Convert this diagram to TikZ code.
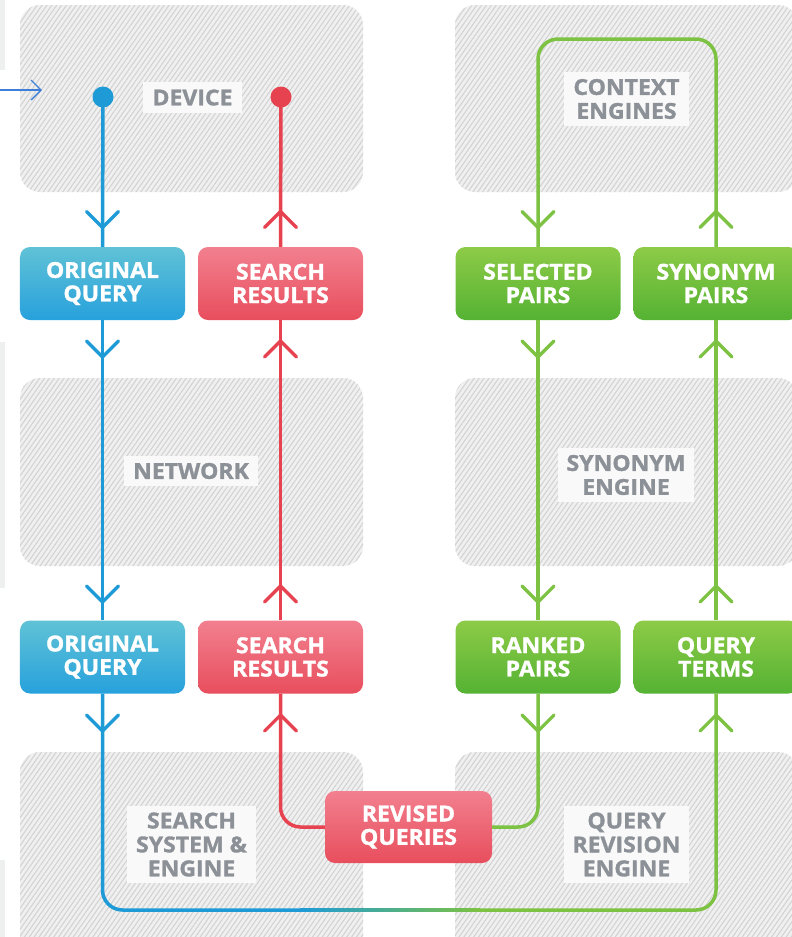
\documentclass[tikz,border=0pt]{standalone}
\usepackage{fontspec}
\setmainfont{Open Sans}[BoldFeatures={FakeBold=1.4, FakeStretch=1.05}]
\usetikzlibrary{patterns.meta,arrows.meta}

\definecolor{cBlueLine}{HTML}{1E9BD7}
\definecolor{cBlueTop}{HTML}{60C2D6}
\definecolor{cBlueBot}{HTML}{27A1DC}
\definecolor{cRedLine}{HTML}{E6424F}
\definecolor{cRedTop}{HTML}{F2808F}
\definecolor{cRedBot}{HTML}{E84E5D}
\definecolor{cGreenLine}{HTML}{7DC242}
\definecolor{cGreenTop}{HTML}{8DCB47}
\definecolor{cGreenBot}{HTML}{55B233}
\definecolor{cPanel}{HTML}{F0F0F0}
\definecolor{cHatch}{HTML}{D3D3D3}
\definecolor{cLabelFill}{HTML}{F9F9F9}
\definecolor{cLabelText}{HTML}{8C9097}
\definecolor{cInArrow}{HTML}{3F7FD8}
\definecolor{cStrip}{HTML}{EEF0F0}

\tikzset{
  panel/.style={fill=cPanel, rounded corners=20bp,
    postaction={pattern={Lines[angle=55,distance=4bp,line width=1.1bp]}, pattern color=cHatch}},
  zonelabel/.style={fill=cLabelFill, text=cLabelText, align=center,
    font=\fontsize{22}{24}\selectfont\bfseries, inner xsep=9bp, inner ysep=7bp},
  stagebox/.style={rounded corners=10bp, minimum width=165bp, minimum height=73bp,
    text=white, align=center, font=\fontsize{22}{23.5}\selectfont\bfseries, inner sep=0pt},
  bluebox/.style={stagebox, top color=cBlueTop, bottom color=cBlueBot},
  redbox/.style={stagebox, top color=cRedTop, bottom color=cRedBot},
  greenbox/.style={stagebox, top color=cGreenTop, bottom color=cGreenBot},
  flow/.style={line width=3.5bp, rounded corners=20bp},
  bflow/.style={flow, color=cBlueLine},
  rflow/.style={flow, color=cRedLine},
  gflow/.style={flow, color=cGreenLine},
  chevdown/.pic={\draw[line width=3.2bp, line cap=round, line join=miter] (-16,-8) -- (0,8) -- (16,-8);},
  chevup/.pic={\draw[line width=3.2bp, line cap=round, line join=miter] (-16,8) -- (0,-8) -- (16,8);},
}

\begin{document}
\begin{tikzpicture}[x=1bp, y=-1bp]
\useasboundingbox (0,0) rectangle (792,937);
\clip (0,0) rectangle (792,937);
\fill[white] (0,0) rectangle (792,937);

% thin strips at the left margin
\fill[cStrip] (0,0) rectangle (5,70);
\fill[cStrip] (0,342) rectangle (5,588);
\fill[cStrip] (0,860) rectangle (5,937);

% hatched zones
\path[panel] (20,5) rectangle (363,192);
\path[panel] (455,5) rectangle (798,192);
\path[panel] (20,378) rectangle (363,566);
\path[panel] (455,378) rectangle (798,566);
\path[panel] (20,752) rectangle (363,960);
\path[panel] (455,752) rectangle (798,960);

% zone labels
\node[zonelabel] (lDevice)  at (192.5,97.5) {DEVICE};
\node[zonelabel] (lContext) at (626.5,99)   {CONTEXT\\ENGINES};
\node[zonelabel] (lNetwork) at (191,471)    {NETWORK};
\node[zonelabel] (lSynEng)  at (626,475)    {SYNONYM\\ENGINE};
\node[zonelabel] (lSearch)  at (191.5,844.5){SEARCH\\SYSTEM \&\\ENGINE};
\node[zonelabel] (lRevEng)  at (626.5,844.5){QUERY\\REVISION\\ENGINE};

% end points of the two device lines
\coordinate (bdot) at (103,97);
\coordinate (rdot) at (281,97);
\coordinate (ctop) at (627,39);
\coordinate (gradL) at (300,910);
\coordinate (gradR) at (480,910);
\coordinate (inA) at (0,90);
\coordinate (inB) at (42,90);

% stage boxes
\node[bluebox]  (oq1) at (102.5,283.5) {ORIGINAL\\QUERY};
\node[redbox]   (sr1) at (280.5,283.5) {SEARCH\\RESULTS};
\node[greenbox] (sel) at (538,283.5)   {SELECTED\\PAIRS};
\node[greenbox] (syn) at (716,283.5)   {SYNONYM\\PAIRS};
\node[bluebox]  (oq2) at (102.5,657)   {ORIGINAL\\QUERY};
\node[redbox]   (sr2) at (280.5,657)   {SEARCH\\RESULTS};
\node[greenbox] (rp)  at (538,657)     {RANKED\\PAIRS};
\node[greenbox] (qt)  at (716,657)     {QUERY\\TERMS};
\node[redbox, minimum width=167bp, minimum height=72bp] (rq) at (408.5,827) {REVISED\\QUERIES};

% blue query flow
\draw[bflow] (bdot) -- (oq1.north);
\draw[bflow] (oq1.south) -- (oq2.north);
\draw[bflow] (oq2.south) |- (gradL);
\shade[left color=cBlueLine, right color=cGreenLine] (300,908.25) rectangle (480,911.75);
\draw[gflow] (gradR) -| (qt.south);
\fill[cBlueLine] (bdot) circle (10.5);

% green synonym loop
\draw[gflow] (qt.north) -- (syn.south);
\draw[gflow] (syn.north) |- (ctop) -| (sel.north);
\draw[gflow] (sel.south) -- (rp.north);
\draw[gflow] (rp.south) |- (rq.east);

% red results flow
\draw[rflow] (rq.west) -| (sr2.south);
\draw[rflow] (sr2.north) -- (sr1.south);
\draw[rflow] (sr1.north) -- (rdot);
\fill[cRedLine] (rdot) circle (10.5);

% direction chevrons
\foreach \y in {219.5,349,594,723} {
  \pic[color=cBlueLine] at (102.5,\y) {chevdown};
  \pic[color=cRedLine] at (280.5,\y) {chevup};
  \pic[color=cGreenLine] at (538,\y) {chevdown};
  \pic[color=cGreenLine] at (716,\y) {chevup};
}

% incoming pointer at the left margin
\draw[cInArrow, line width=1.3bp, -{Straight Barb[length=10bp,width=20bp]}] (inA) -- (inB);
\end{tikzpicture}
\end{document}
